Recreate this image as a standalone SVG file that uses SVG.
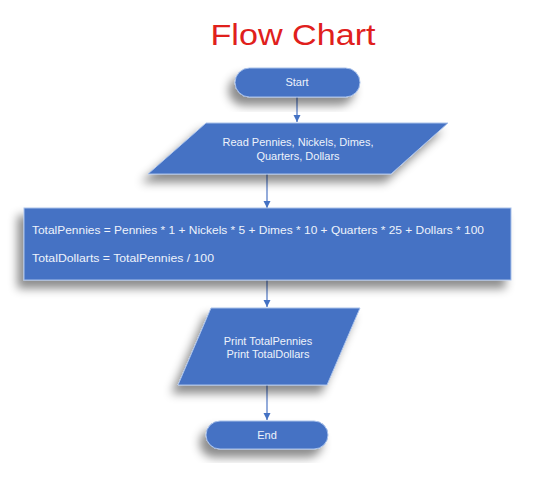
<svg xmlns="http://www.w3.org/2000/svg" width="540" height="477" viewBox="0 0 540 477">
<style>
.shape{fill:#4472C4;stroke:#a9c1ea;stroke-width:1;filter:url(#sh);}
.lbl{font-family:"Liberation Sans",Arial,sans-serif;font-size:11px;fill:#eef2fb;}
.mid{text-anchor:middle;}
.conn{stroke:#5a7fc8;stroke-width:1.3;fill:none;marker-end:url(#ah);}
</style>
<defs>
<filter id="sh" x="-20%" y="-30%" width="140%" height="180%">
<feDropShadow dx="-6" dy="8" stdDeviation="5" flood-color="#000" flood-opacity="0.45"/>
</filter>
<marker id="ah" markerWidth="8" markerHeight="8" refX="7" refY="4" orient="auto" markerUnits="userSpaceOnUse">
<path d="M0,0.5 L7,4 L0,7.5 z" fill="#4472C4"/>
</marker>
</defs>
<rect width="540" height="477" fill="#ffffff"/>
<text x="293" y="45" text-anchor="middle" font-family="'Liberation Sans',Arial,sans-serif" font-size="30" fill="#e0201c" textLength="165" lengthAdjust="spacingAndGlyphs">Flow Chart</text>
<g id="connectors">
<line class="conn" x1="297" y1="97" x2="297" y2="122"/>
<line class="conn" x1="267" y1="174" x2="267" y2="208"/>
<line class="conn" x1="267" y1="280" x2="267" y2="307"/>
<line class="conn" x1="267" y1="385" x2="267" y2="420"/>
</g>
<g id="start">
<rect class="shape" x="235" y="68" width="125" height="29" rx="14.5"/>
<text class="lbl mid" x="297" y="86">Start</text>
</g>
<g id="read">
<polygon class="shape" points="206,123 448,123 391,174 148,174"/>
<text class="lbl mid" x="298" y="146">Read Pennies, Nickels, Dimes,</text>
<text class="lbl mid" x="298" y="160">Quarters, Dollars</text>
</g>
<g id="compute">
<rect class="shape" x="24" y="208" width="487" height="72"/>
<text class="lbl" x="32" y="234" textLength="452" lengthAdjust="spacingAndGlyphs">TotalPennies = Pennies * 1 + Nickels * 5 + Dimes * 10 + Quarters * 25 + Dollars * 100</text>
<text class="lbl" x="32" y="262" textLength="182" lengthAdjust="spacingAndGlyphs">TotalDollarts = TotalPennies / 100</text>
</g>
<g id="print">
<polygon class="shape" points="211,308 360,308 327,385 178,385"/>
<text class="lbl mid" x="268" y="345">Print TotalPennies</text>
<text class="lbl mid" x="268" y="358">Print TotalDollars</text>
</g>
<g id="end">
<rect class="shape" x="206" y="421" width="122" height="28" rx="14"/>
<text class="lbl mid" x="267" y="439">End</text>
</g>
</svg>
